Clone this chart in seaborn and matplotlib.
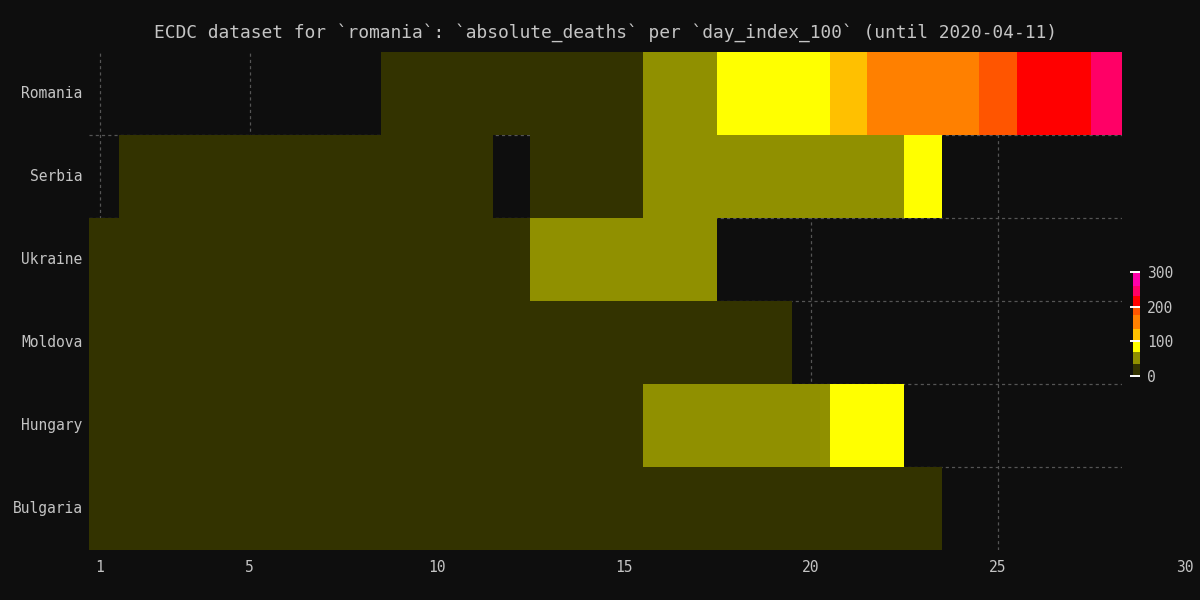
import numpy as np
import pandas as pd
import matplotlib
matplotlib.use('Agg')
import matplotlib.pyplot as plt
import matplotlib.transforms as mtransforms
from matplotlib.colors import ListedColormap
import seaborn as sns

# ---------------- data ----------------
days = list(range(1, 29))
countries = ['Romania', 'Serbia', 'Ukraine', 'Moldova', 'Hungary', 'Bulgaria']

romania = [None] * 8 + [2, 4, 7, 11, 17, 22, 29, 44, 65, 77, 85, 94, 115,
                        146, 151, 157, 182, 209, 220, 245]
serbia = [None, 1, 1, 2, 3, 3, 4, 5, 7, 9, 10, None, 16, 23, 28,
          36, 39, 44, 51, 58, 61, 65, 71] + [None] * 5
ukraine = [3, 3, 5, 7, 9, 10, 13, 17, 20, 22, 27, 32,
           37, 45, 52, 57, 69] + [None] * 11
moldova = [1, 1, 1, 2, 2, 3, 3, 4, 5, 8, 12, 15, 17, 19, 23, 26, 27, 29, 31] + [None] * 9
hungary = [1, 1, 4, 6, 9, 10, 10, 11, 13, 15, 16, 20, 21, 26, 32,
           36, 38, 47, 58, 66, 77, 85] + [None] * 6
bulgaria = [2, 3, 3, 3, 3, 4, 7, 8, 8, 8, 10, 14, 17, 20, 22, 23, 24, 25,
            28, 29, 31, 31, 33] + [None] * 5

x_ticks = [1, 5, 10, 15, 20, 25, 30]
cbar_ticks = [0, 100, 200, 300]

# colour bands (5 deaths per step, 0..300)
band_colors = ['#333300', '#909000', '#ffff00', '#ffc000', '#ff8000',
               '#ff5500', '#ff0000', '#ff0066', '#ff00aa']
band_steps = [7, 7, 6, 7, 8, 5, 6, 6, 8]

# ---------------- style ----------------
BG = '#0e0e0e'
FG = '#c4c4c4'
GRID = '#555555'
plt.rcParams['font.family'] = ['DejaVu Sans Mono', 'DejaVu Sans']
plt.rcParams['figure.facecolor'] = BG
plt.rcParams['axes.facecolor'] = BG
plt.rcParams['text.color'] = FG
plt.rcParams['xtick.color'] = FG
plt.rcParams['ytick.color'] = FG

df = pd.DataFrame([romania, serbia, ukraine, moldova, hungary, bulgaria],
                  index=countries, columns=days, dtype=float)

colors = []
for c, n in zip(band_colors, band_steps):
    colors += [c] * n
cmap = ListedColormap(colors)

fig = plt.figure(figsize=(12, 6), dpi=100)
ax = fig.add_axes([89 / 1200, 50 / 600, (1122 - 89) / 1200, (550 - 52) / 600])
cax = fig.add_axes([1133 / 1200, (600 - 376) / 600, 7 / 1200, 104 / 600])

sns.heatmap(df, ax=ax, cbar_ax=cax, cmap=cmap, vmin=0, vmax=300,
            linewidths=0, xticklabels=False, yticklabels=countries)

# x in heatmap coords: day d is centred at d - 0.5
px_per_day = (1185 - 100) / 29
left_day = 1 + (89 - 100) / px_per_day
right_day = 1 + (1122 - 100) / px_per_day
ax.set_xlim(left_day - 0.5, right_day - 0.5)
ax.set_ylim(len(countries), 0)

shown = [t for t in x_ticks if t - 0.5 <= right_day - 0.5]
ax.set_xticks([t - 0.5 for t in shown])
ax.set_xticklabels([str(t) for t in shown], fontsize=10.5)
ax.tick_params(axis='x', length=0, pad=7)
ax.tick_params(axis='y', length=0, pad=4.5, labelsize=10.5)
plt.setp(ax.get_yticklabels(), rotation=0)

# tick labels past the plotted range
trans = mtransforms.blended_transform_factory(ax.transData, ax.transAxes)
trans = mtransforms.offset_copy(trans, fig=fig, y=-7, units='points')
for t in x_ticks:
    if t - 0.5 > right_day - 0.5:
        ax.text(t - 0.5, 0, str(t), transform=trans, ha='center', va='top',
                fontsize=10.5, color=FG, clip_on=False)

# dashed grid beneath the cells
ax.set_axisbelow(True)
ax.grid(axis='x', color=GRID, linestyle=(0, (2.5, 2.5)), linewidth=0.9)
ax.hlines(range(1, len(countries)), left_day - 0.5, right_day - 0.5,
          colors=GRID, linestyles=(0, (2.5, 2.5)), linewidth=0.9, zorder=0.5)
for s in ax.spines.values():
    s.set_visible(False)

ax.set_title('ECDC dataset for `romania`: `absolute_deaths` per `day_index_100` (until 2020-04-11)',
             fontsize=12.9, color=FG, pad=10)
ax.set_xlabel('')
ax.set_ylabel('')

# colour bar
cbar = ax.collections[0].colorbar
cbar.set_ticks(cbar_ticks)
cbar.outline.set_visible(False)
cax.tick_params(axis='y', colors='white', direction='in', length=7, width=1.4,
                pad=5, labelsize=10.5, labelcolor=FG)

fig.savefig('out.png', dpi=100, facecolor=BG)
